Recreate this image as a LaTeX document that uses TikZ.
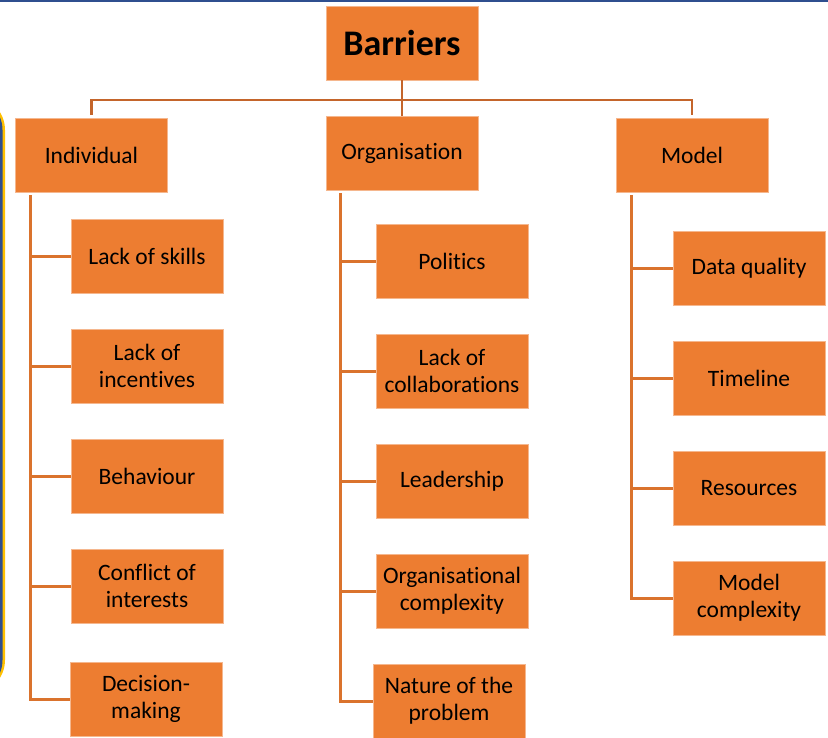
\documentclass[tikz,border=0pt]{standalone}
\usepackage{fontspec}
\setmainfont[Ligatures=NoCommon]{Carlito}
\usetikzlibrary{positioning,calc}
\definecolor{barorange}{HTML}{ED7D31}
\definecolor{bartop}{HTML}{C4652B}
\definecolor{slideblue}{HTML}{2F4F8F}
\definecolor{slideglow}{HTML}{FFC000}

\begin{document}
\begin{tikzpicture}[x=1pt,y=-1pt,
		box/.style={fill=barorange, draw=barorange!55!white, line width=0.6pt, minimum width=152pt, minimum height=74pt, align=center, inner sep=2pt, font=\fontsize{23.5}{27}\selectfont},
		toplink/.style={bartop, line width=2.6pt},
		sublink/.style={barorange!92!black, line width=3pt}]
				\useasboundingbox (0,0) rectangle (828,737);
				\begin{scope}
					\clip (0,0) rectangle (828,737);
					% slide frame at the edges
					\draw[slideblue, line width=2pt] (0,0.5) -- (828,0.5);
					\draw[slideglow, line width=4pt, rounded corners=32pt] (-200,98) rectangle (3,692);
					\draw[slideblue, line width=3pt, rounded corners=32pt] (-200,98) rectangle (1,692);
				\end{scope}

				% top level
				\node[box, font=\fontsize{36}{40}\selectfont\bfseries] (bar) at (402,43) {Barriers};
				\node[box] (ind) at (91.5,155) {Individual};
				\node[box] (org) at (402,153) {Organisation};
				\node[box] (mod) at (692,155) {Model};

				\coordinate (hub) at (402,100);
				\draw[toplink] (bar.south) -- (org.north);
				\draw[toplink, shorten <=3pt] (ind.north) |- (hub);
				\draw[toplink, shorten <=3pt] (mod.north) |- (hub);

				% individual
				\node[box] (skills) at (147,256) {Lack of skills};
				\node[box] (incent) at (147,366) {Lack of\\incentives};
				\node[box] (behav) at (147,476) {Behaviour};
				\node[box] (confl) at (147,586) {Conflict of\\interests};
				\node[box] (decis) at (146,699) {Decision-\\making};
				\coordinate (indtrunk) at (30,195);
				\draw[sublink] (indtrunk) |- (skills.west);
				\draw[sublink] (indtrunk) |- (incent.west);
				\draw[sublink] (indtrunk) |- (behav.west);
				\draw[sublink] (indtrunk) |- (confl.west);
				\draw[sublink] (indtrunk) |- (decis.west);

				% organisation
				\node[box] (pol) at (452,261) {Politics};
				\node[box] (collab) at (452,371) {Lack of\\collaborations};
				\node[box] (lead) at (452,481) {Leadership};
				\node[box] (orgcx) at (452,591) {Organisational\\complexity};
				\node[box] (nature) at (449,701) {Nature of the\\problem};
				\coordinate (orgtrunk) at (340,193);
				\draw[sublink] (orgtrunk) |- (pol.west);
				\draw[sublink] (orgtrunk) |- (collab.west);
				\draw[sublink] (orgtrunk) |- (lead.west);
				\draw[sublink] (orgtrunk) |- (orgcx.west);
				\draw[sublink] (orgtrunk) |- (nature.west);

				% model
				\node[box] (data) at (749,268) {Data quality};
				\node[box] (time) at (749,378) {Timeline};
				\node[box] (res) at (749,488) {Resources};
				\node[box] (modcx) at (749,598) {Model\\complexity};
				\coordinate (modtrunk) at (631,195);
				\draw[sublink] (modtrunk) |- (data.west);
				\draw[sublink] (modtrunk) |- (time.west);
				\draw[sublink] (modtrunk) |- (res.west);
				\draw[sublink] (modtrunk) |- (modcx.west);
			\end{tikzpicture}
\end{document}
